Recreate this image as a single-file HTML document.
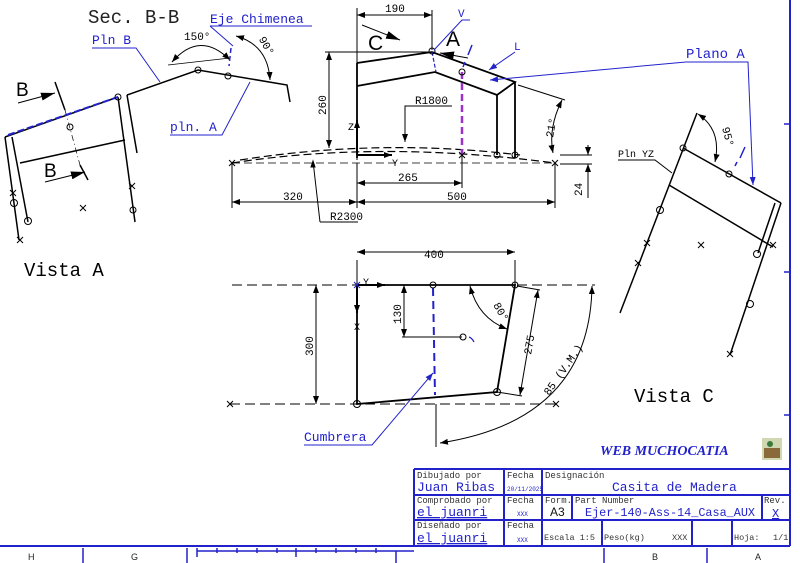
<!DOCTYPE html>
<html><head><meta charset="utf-8"><style>
html,body{margin:0;padding:0;background:#fff;}
svg{display:block;font-family:"Liberation Mono","DejaVu Sans Mono",monospace;}
</style></head><body>
<svg width="800" height="563" viewBox="0 0 800 563" xmlns="http://www.w3.org/2000/svg">
<defs>
<marker id="ar" markerWidth="8" markerHeight="6" refX="8" refY="3" orient="auto" markerUnits="userSpaceOnUse"><path d="M0,0 L8,3 L0,6z" fill="#000"/></marker>
<marker id="al" markerWidth="8" markerHeight="6" refX="0" refY="3" orient="auto" markerUnits="userSpaceOnUse"><path d="M8,0 L0,3 L8,6z" fill="#000"/></marker>
<marker id="ab" markerWidth="8" markerHeight="6" refX="8" refY="3" orient="auto" markerUnits="userSpaceOnUse"><path d="M0,0 L8,3 L0,6z" fill="#22c"/></marker>
<marker id="big" markerWidth="14" markerHeight="8" refX="14" refY="4" orient="auto" markerUnits="userSpaceOnUse"><path d="M0,0 L14,4 L0,8z" fill="#000"/></marker>
</defs>

<!-- ===== Vista A / Sec B-B ===== -->
<g stroke="#000" fill="none" stroke-width="1.5">
<path d="M5,137 L118,97"/>
<path d="M5,137 L19,240 M12,137 L28,222"/>
<path d="M20,163 L125,140"/>
<path d="M118,97 L135,222 M127,95 L137,153"/>
<path d="M127,95 L198,70 L287,85 L290,102"/>
<path d="M18,103 L55,93" stroke-width="1" marker-end="url(#big)"/>
<path d="M55,82 L65,110"/>
<path d="M45,182 L85,172" stroke-width="1" marker-end="url(#big)"/>
<path d="M80,165 L88,180"/>
<path d="M65,110 L80,165" stroke-width="0.7" stroke-dasharray="6,3,1,3"/>
<path d="M172,62 Q200,30 230,60" stroke-width="1" marker-start="url(#al)" marker-end="url(#ar)"/>
<path d="M236,36 Q268,45 270,80" stroke-width="1" marker-start="url(#al)" marker-end="url(#ar)"/>
<path d="M168,65 L230,58" stroke-width="0.7"/>
</g>
<path d="M8,135 L118,97" stroke="#22c" stroke-width="2" stroke-dasharray="7,3" fill="none"/>
<path d="M231,48 L229,66" stroke="#22c" stroke-width="1.5" stroke-dasharray="5,3" fill="none"/>
<g stroke="#000" fill="none" stroke-width="1">
<circle cx="118" cy="97" r="3"/><circle cx="70" cy="127" r="3"/><circle cx="198" cy="70" r="3"/><circle cx="228" cy="76" r="3"/><circle cx="14" cy="203" r="3.5"/><circle cx="28" cy="221" r="3.5"/><circle cx="133" cy="210" r="3"/>
<path d="M10,190 l6,6 m0,-6 l-6,6 M17,237 l6,6 m0,-6 l-6,6 M80,205 l6,6 m0,-6 l-6,6 M129,183 l6,6 m0,-6 l-6,6"/>
</g>
<g font-family="Liberation Mono, monospace">
<text x="88" y="23" font-size="19" fill="#222">Sec. B-B</text>
<text x="16" y="96" font-size="19" font-family="Liberation Sans, sans-serif">B</text>
<text x="44" y="177" font-size="19" font-family="Liberation Sans, sans-serif">B</text>
<text x="184" y="40" font-size="11">150°</text>
<text x="255" y="45" font-size="11" transform="rotate(60 262 45)">90°</text>
<text x="210" y="23" font-size="13" fill="#22c">Eje Chimenea</text>
<text x="92" y="44" font-size="13" fill="#22c">Pln B</text>
<text x="170" y="131" font-size="13" fill="#22c">pln. A</text>
<text x="24" y="276" font-size="19">Vista A</text>
</g>
<g stroke="#22c" fill="none" stroke-width="1">
<path d="M210,26 L312,26 M210,26 L233,46"/>
<path d="M92,48 L136,48 L160,82"/>
<path d="M170,135 L222,135 L250,82"/>
</g>

<!-- ===== Top middle view ===== -->
<g stroke="#000" fill="none" stroke-width="1">
<path d="M357,8 L357,160 M432,10 L432,50"/>
<path d="M357,15 L432,15" marker-start="url(#al)" marker-end="url(#ar)"/>
<path d="M362,25 L400,40" marker-end="url(#big)"/>
<path d="M468,58 L440,53" marker-end="url(#big)"/>
<path d="M325,52 L432,52"/>
<path d="M329,52 L329,148" marker-start="url(#al)" marker-end="url(#ar)"/>
<path d="M357,163 L357,208 M462,155 L462,188 M555,163 L555,208 M232,163 L232,208"/>
<path d="M357,183 L462,183" marker-start="url(#al)" marker-end="url(#ar)"/>
<path d="M232,202 L357,202" marker-start="url(#al)" marker-end="url(#ar)"/>
<path d="M357,202 L555,202" marker-start="url(#al)" marker-end="url(#ar)"/>
<path d="M320,222 L358,222 M320,222 L313,161" />
<path d="M313,161 l-2,6 l4,0z" fill="#000"/>
<path d="M452,106 L405,106 L405,142" marker-end="url(#ar)"/>
<path d="M518,85 L565,100"/>
<path d="M562,100 Q548,128 553,153" marker-start="url(#al)" marker-end="url(#ar)"/>
<path d="M560,155 L592,155 M560,164 L592,164"/>
<path d="M588,145 L588,155" marker-end="url(#ar)"/><path d="M588,174 L588,164" marker-end="url(#ar)"/>
<path d="M588,164 L588,198"/>
</g>
<g stroke="#000" fill="none" stroke-width="1.8">
<path d="M357,63 L432,52 L515,82 L497,95 L435,72 L357,86"/>
<path d="M357,63 L357,158 M497,95 L497,155 M515,82 L515,158"/>
<path d="M357,155 L357,120" stroke-width="2" marker-end="url(#ar)"/>
<path d="M357,155 L392,155" stroke-width="2" marker-end="url(#ar)"/>
</g>
<g stroke="#000" fill="none" stroke-width="1.2" stroke-dasharray="8,4">
<path d="M232,163 Q380,140 555,163"/>
<path d="M240,160 Q380,138 520,155"/>
<path d="M232,163 L555,163" stroke-width="0.8"/>
</g>
<path d="M462,72 L462,155" stroke="#93c" stroke-width="2.5" stroke-dasharray="7,4"/>
<path d="M432,52 L436,72" stroke="#22c" stroke-width="1.2" stroke-dasharray="4,2"/>
<g stroke="#000" fill="none" stroke-width="1">
<circle cx="432" cy="51" r="3"/><circle cx="462" cy="72" r="3"/><circle cx="497" cy="155" r="3"/><circle cx="515" cy="155" r="3"/>
<path d="M229,160 l6,6 m0,-6 l-6,6 M552,160 l6,6 m0,-6 l-6,6 M459,152 l6,6 m0,-6 l-6,6"/>
</g>
<g font-size="11" fill="#000">
<text x="385" y="12">190</text>
<text x="368" y="50" font-size="21" font-family="Liberation Sans, sans-serif">C</text>
<text x="446" y="46" font-size="21" font-family="Liberation Sans, sans-serif">A</text>
<text x="0" y="0" transform="translate(326,115) rotate(-90)">260</text>
<text x="348" y="130" font-size="10">Z</text>
<text x="392" y="166" font-size="10">Y</text>
<text x="398" y="181">265</text>
<text x="283" y="200">320</text>
<text x="447" y="200">500</text>
<text x="330" y="220">R2300</text>
<text x="415" y="104">R1800</text>
<text x="0" y="0" transform="translate(553,138) rotate(-80)">21°</text>
<text x="0" y="0" transform="translate(582,196) rotate(-90)">24</text>
<text x="458" y="17" fill="#22c">V</text>
<text x="514" y="50" fill="#22c">L</text>
<text x="686" y="58" font-size="14" fill="#22c">Plano A</text>
</g>
<g stroke="#22c" fill="none" stroke-width="1">
<path d="M470,20 L462,20 L434,50"/>
<path d="M515,52 L489,70" marker-end="url(#ab)"/>
<path d="M686,62 L748,62 L753,185" marker-end="url(#ab)"/>
<path d="M686,62 L490,80" marker-end="url(#ab)"/>
<path d="M472,45 L468,55 M465,62 L463,67" stroke-width="1.5"/>
</g>

<!-- ===== Vista C ===== -->
<g stroke="#000" fill="none" stroke-width="1.5">
<path d="M697,113 L620,313"/>
<path d="M683,148 L781,203"/>
<path d="M669,185 L773,247"/>
<path d="M781,203 L730,355 M775,203 L758,253"/>
</g>
<g stroke="#000" fill="none" stroke-width="1">
<path d="M698,114 Q722,130 715,162" marker-start="url(#al)" marker-end="url(#ar)"/>
<path d="M618,160 L655,160 L672,173"/>
<circle cx="683" cy="148" r="3"/><circle cx="729" cy="174" r="3"/><circle cx="660" cy="210" r="3.5"/><circle cx="757" cy="254" r="3.5"/><circle cx="750" cy="304" r="3.5"/>
<path d="M644,240 l6,6 m0,-6 l-6,6 M635,260 l6,6 m0,-6 l-6,6 M698,242 l6,6 m0,-6 l-6,6 M727,351 l6,6 m0,-6 l-6,6 M770,242 l6,6 m0,-6 l-6,6"/>
</g>
<path d="M745,147 L740,158 M737,162 L735,166" stroke="#22c" stroke-width="1.5"/>
<text x="0" y="0" font-size="11" transform="translate(722,128) rotate(75)">95°</text>
<text x="618" y="157" font-size="10">Pln YZ</text>
<text x="634" y="402" font-size="19">Vista C</text>

<!-- ===== Lower view ===== -->
<g stroke="#000" fill="none" stroke-width="1">
<path d="M357,260 L357,285 M515,260 L515,285"/>
<path d="M357,252 L515,252" marker-start="url(#al)" marker-end="url(#ar)"/>
<path d="M316,285 L316,404" marker-start="url(#al)" marker-end="url(#ar)"/>
<path d="M404,285 L404,337" marker-start="url(#al)" marker-end="url(#ar)"/>
<path d="M402,337 L462,337"/>
<path d="M517,286 L540,290 M497,392 L522,396"/>
<path d="M538,290 L520,395" marker-start="url(#al)" marker-end="url(#ar)"/>
<path d="M470,286 Q478,318 507,329" marker-start="url(#al)" marker-end="url(#ar)"/>
<path d="M592,286 Q590,420 440,443" marker-start="url(#al)" marker-end="url(#ar)"/>
<path d="M436,404 L436,447"/>
</g>
<g stroke="#000" fill="none" stroke-width="1" stroke-dasharray="10,5">
<path d="M232,285 L595,285"/>
<path d="M230,404 L555,404"/>
</g>
<g stroke="#000" fill="none" stroke-width="1.8">
<path d="M357,285 L515,285 L497,392 L357,404 Z"/>
<path d="M357,285 L385,285" stroke-width="2" marker-end="url(#ar)"/>
<path d="M357,285 L357,313" stroke-width="2" marker-end="url(#ar)"/>
</g>
<path d="M433,288 L435,395" stroke="#22c" stroke-width="2" stroke-dasharray="8,5"/>
<path d="M469,337 Q472,338 474,342" stroke="#22c" stroke-width="1.2" fill="none"/>
<g stroke="#000" fill="none" stroke-width="1">
<circle cx="433" cy="285" r="3"/><circle cx="515" cy="285" r="3"/><circle cx="463" cy="337" r="3"/><circle cx="497" cy="392" r="3.5"/><circle cx="357" cy="404" r="3.5"/>
<path d="M227,401 l6,6 m0,-6 l-6,6 M553,401 l6,6 m0,-6 l-6,6"/>
</g>
<path d="M357,285 l-3,-3 m6,0 l-6,6 m6,0 l-6,-6" stroke="#22c" stroke-width="1"/>
<g font-size="11">
<text x="424" y="258">400</text>
<text x="363" y="285" font-size="10">Y</text>
<text x="354" y="330" font-size="10">X</text>
<text x="0" y="0" transform="translate(313,356) rotate(-90)">300</text>
<text x="0" y="0" transform="translate(401,324) rotate(-90)">130</text>
<text x="0" y="0" transform="translate(493,305) rotate(60)">80°</text>
<text x="0" y="0" transform="translate(531,355) rotate(-80)">275</text>
<text x="0" y="0" transform="translate(549,396) rotate(-55)">85 (V.M.)</text>
<text x="304" y="441" font-size="13" fill="#22c">Cumbrera</text>
</g>
<path d="M304,445 L372,445 L433,373" stroke="#22c" fill="none" stroke-width="1" marker-end="url(#ab)"/>

<!-- ===== Title block & border ===== -->
<g stroke="#22c" fill="none" stroke-width="2">
<path d="M790,0 L790,546"/>
<path d="M0,546 L790,546"/>
<path d="M414,469 L790,469 M414,469 L414,546 M414,495 L542,495 M414,520 L542,520 M504,469 L504,546 M542,469 L542,546"/>
<path d="M542,495 L790,495 M542,520 L790,520 M572,495 L572,520 M762,495 L762,520 M602,520 L602,546 M692,520 L692,546 M732,520 L732,546"/>
<path d="M784,124 L790,124 M784,272 L790,272 M784,415 L790,415" stroke-width="1.5"/>
</g>
<g stroke="#22c" stroke-width="1.5" fill="none">
<path d="M197,551 L414,551 M197,548 L197,557 M296,548 L296,557 M396,551 L396,563 M83,548 L83,563 M187,548 L187,563 M604,548 L604,563 M707,548 L707,563"/>
<path d="M217,548 L217,553 M237,548 L237,553 M257,548 L257,553 M277,548 L277,553 M316,548 L316,553 M336,548 L336,553 M356,548 L356,553 M376,548 L376,553"/>
</g>
<g font-family="Liberation Sans, sans-serif" font-size="9" fill="#222">
<text x="28" y="560">H</text><text x="131" y="560">G</text><text x="652" y="560">B</text><text x="755" y="560">A</text>
</g>
<g font-size="9" fill="#333">
<text x="417" y="478">Dibujado por</text>
<text x="507" y="478">Fecha</text>
<text x="545" y="478">Designación</text>
<text x="417" y="503">Comprobado por</text>
<text x="507" y="503">Fecha</text>
<text x="545" y="503">Form.</text>
<text x="575" y="503">Part Number</text>
<text x="764" y="503">Rev.</text>
<text x="417" y="528">Diseñado por</text>
<text x="507" y="528">Fecha</text>
<text x="544" y="540" font-size="8.5">Escala 1:5</text>
<text x="604" y="540" font-size="8.5">Peso(kg)</text>
<text x="672" y="540" font-size="8.5">XXX</text>
<text x="734" y="540" font-size="8.5">Hoja:</text>
<text x="773" y="540" font-size="8.5">1/1</text>
</g>
<g fill="#22c">
<text x="417" y="491" font-size="13">Juan Ribas</text>
<text x="417" y="516" font-size="13" text-decoration="underline">el juanri</text>
<text x="417" y="542" font-size="13" text-decoration="underline">el juanri</text>
<text x="507" y="491" font-size="6">20/11/2025</text>
<text x="517" y="516" font-size="6">XXX</text>
<text x="517" y="542" font-size="6">XXX</text>
<text x="612" y="491" font-size="13">Casita de Madera</text>
<text x="585" y="516" font-size="12" textLength="170" lengthAdjust="spacingAndGlyphs">Ejer-140-Ass-14_Casa_AUX</text>
<text x="772" y="517" font-size="12" text-decoration="underline">X</text>
<text x="600" y="455" font-size="14" font-style="italic" font-weight="bold" font-family="Liberation Serif, serif">WEB MUCHOCATIA</text>
</g>
<text x="550" y="516" font-size="12" font-family="Liberation Sans, sans-serif" fill="#111">A3</text>
<g>
<rect x="762" y="438" width="20" height="22" fill="#cfd8b0"/>
<rect x="764" y="448" width="16" height="10" fill="#8a6a3a"/>
<circle cx="770" cy="444" r="3" fill="#3a7a3a"/>
</g>
</svg>
</body></html>
